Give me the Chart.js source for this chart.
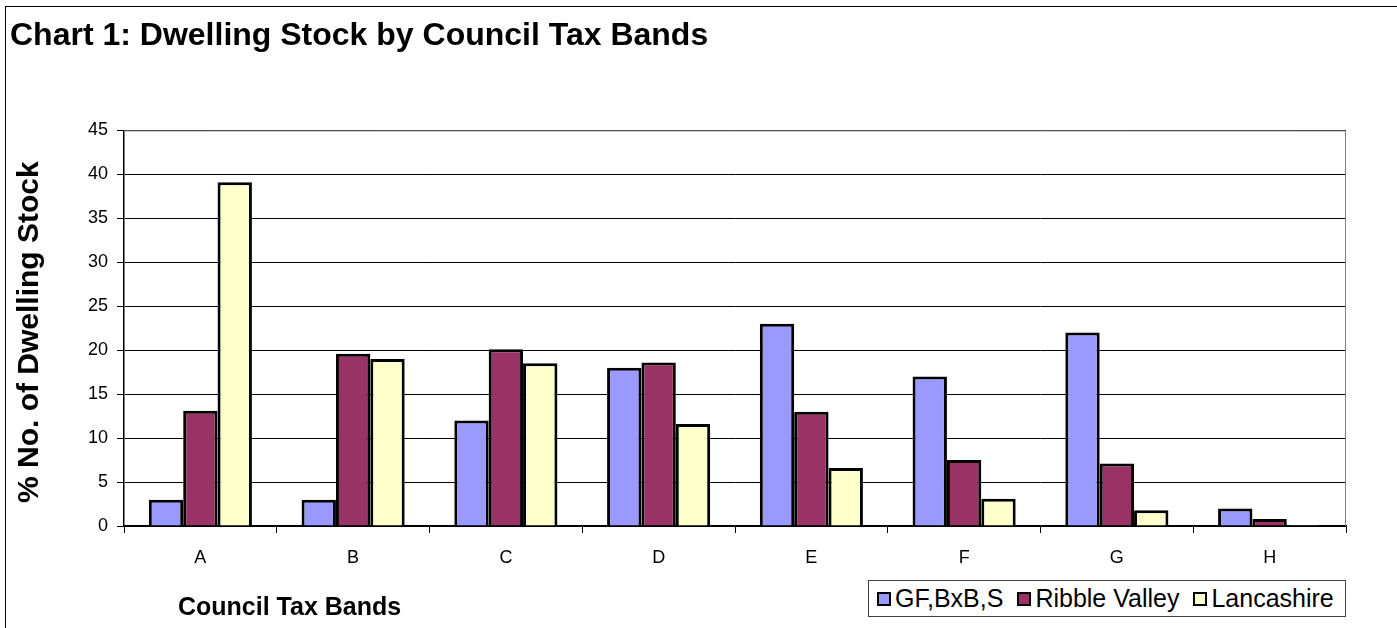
<!DOCTYPE html>
<html>
<head>
<meta charset="utf-8">
<script src="https://cdn.jsdelivr.net/npm/chart.js@4.4.1/dist/chart.umd.min.js"></script>
<style>
  html, body { margin: 0; padding: 0; background: #ffffff; }
  #wrap { position: relative; width: 1397px; height: 628px; overflow: hidden; background: #ffffff; font-family: 'Liberation Sans', Arial, Helvetica, sans-serif; }
  #frame { position: absolute; left: 5px; top: 6px; width: 1500px; height: 700px; border: 1.5px solid #000; box-sizing: border-box; pointer-events: none; }
  canvas { position: absolute; left: 0; top: 0; }
  #legend { position: absolute; left: 868px; top: 580px; width: 478px; height: 37px; box-sizing: border-box; border: 1px solid #404040; background: #fff; display: flex; align-items: center; padding-left: 8px; white-space: nowrap; }
  #legend .item { display: flex; align-items: center; margin-right: 14px; font-size: 25px; color: #000; line-height: 1; }
  #legend .sw { width: 14px; height: 14px; box-sizing: border-box; border: 2px solid #000; margin-right: 4px; flex: none; }
</style>
</head>
<body>
<div id="wrap">
  <canvas id="c" width="1397" height="628"></canvas>
  <div id="legend"></div>
  <div id="frame"></div>
</div>
<script>
const chartTitle = 'Chart 1: Dwelling Stock by Council Tax Bands';
const yAxisTitle = '% No. of Dwelling Stock';
const xAxisTitle = 'Council Tax Bands';
const categories = ['A', 'B', 'C', 'D', 'E', 'F', 'G', 'H'];
const seriesNames = ['GF,BxB,S', 'Ribble Valley', 'Lancashire'];
const gfBxBS = [3, 3, 12, 18, 23, 17, 22, 2];
const ribbleValley = [13.1, 19.6, 20.1, 18.6, 13, 7.5, 7.1, 0.8];
const lancashire = [39.1, 19, 18.5, 11.6, 6.6, 3.1, 1.8, 0.1];
const yTicks = [0, 5, 10, 15, 20, 25, 30, 35, 40, 45];
const colors = ['#9999FF', '#993366', '#FFFFCC'];

const FONT = "'Liberation Sans', Arial, Helvetica, sans-serif";

const plotFrame = {
  id: 'plotFrame',
  beforeDatasetsDraw(chart) {
    const {ctx, chartArea: a} = chart;
    ctx.save();
    ctx.strokeStyle = '#808080';
    ctx.lineWidth = 1;
    ctx.beginPath();
    ctx.moveTo(a.left, a.top + 0.5);
    ctx.lineTo(a.right - 0.5, a.top + 0.5);
    ctx.lineTo(a.right - 0.5, a.bottom);
    ctx.stroke();
    ctx.restore();
  }
};

const axisTitles = {
  id: 'axisTitles',
  afterDraw(chart) {
    const {ctx, chartArea: a} = chart;
    ctx.save();
    ctx.fillStyle = '#000';
    ctx.textBaseline = 'middle';
    // x axis title (left-placed as in the reference)
    ctx.font = "bold 25px " + FONT;
    ctx.textAlign = 'left';
    ctx.fillText(xAxisTitle, 178, 608);
    // y axis title
    ctx.font = "bold 30px " + FONT;
    ctx.textAlign = 'center';
    ctx.translate(30, (a.top + a.bottom) / 2 + 4);
    ctx.rotate(-Math.PI / 2);
    ctx.fillText(yAxisTitle, 0, 0);
    ctx.restore();
  }
};

const chart = new Chart(document.getElementById('c'), {
  type: 'bar',
  data: {
    labels: categories,
    datasets: [
      { label: seriesNames[0], data: gfBxBS, backgroundColor: colors[0] },
      { label: seriesNames[1], data: ribbleValley, backgroundColor: colors[1] },
      { label: seriesNames[2], data: lancashire, backgroundColor: colors[2] }
    ].map(d => Object.assign(d, { borderColor: '#000', borderWidth: 3, borderSkipped: 'bottom', barPercentage: 1, categoryPercentage: 0.675 }))
  },
  options: {
    responsive: false,
    animation: false,
    devicePixelRatio: 1,
    layout: { padding: { left: 10, right: 51, top: 0, bottom: 47 } },
    plugins: {
      title: {
        display: true,
        text: chartTitle,
        align: 'start',
        color: '#000',
        font: { family: FONT, size: 32, weight: 'bold' },
        padding: { top: 17, bottom: 75 }
      },
      legend: { display: false },
      tooltip: { enabled: false }
    },
    scales: {
      x: {
        grid: { display: true, drawOnChartArea: false, drawTicks: true, tickLength: 7, color: '#000', offset: true },
        border: { display: true, color: '#000', width: 1.5 },
        ticks: { color: '#000', font: { family: FONT, size: 18 }, padding: 14, maxRotation: 0 },
        afterFit(scale) { scale.height = 55; }
      },
      y: {
        min: 0, max: 45,
        afterBuildTicks(scale) { scale.ticks = yTicks.map(v => ({ value: v })); },
        grid: { color: '#000', lineWidth: 1, tickLength: 7, drawTicks: true },
        border: { display: true, color: '#000', width: 1.5 },
        ticks: { color: '#000', font: { family: FONT, size: 18 }, padding: 9 },
        afterFit(scale) { scale.width = 114; }
      }
    }
  },
  plugins: [plotFrame, axisTitles]
});

// HTML legend built from the chart's datasets
const legendEl = document.getElementById('legend');
chart.data.datasets.forEach(ds => {
  const item = document.createElement('div');
  item.className = 'item';
  const sw = document.createElement('span');
  sw.className = 'sw';
  sw.style.background = ds.backgroundColor;
  const tx = document.createElement('span');
  tx.textContent = ds.label;
  item.appendChild(sw);
  item.appendChild(tx);
  legendEl.appendChild(item);
});
</script>
</body>
</html>
